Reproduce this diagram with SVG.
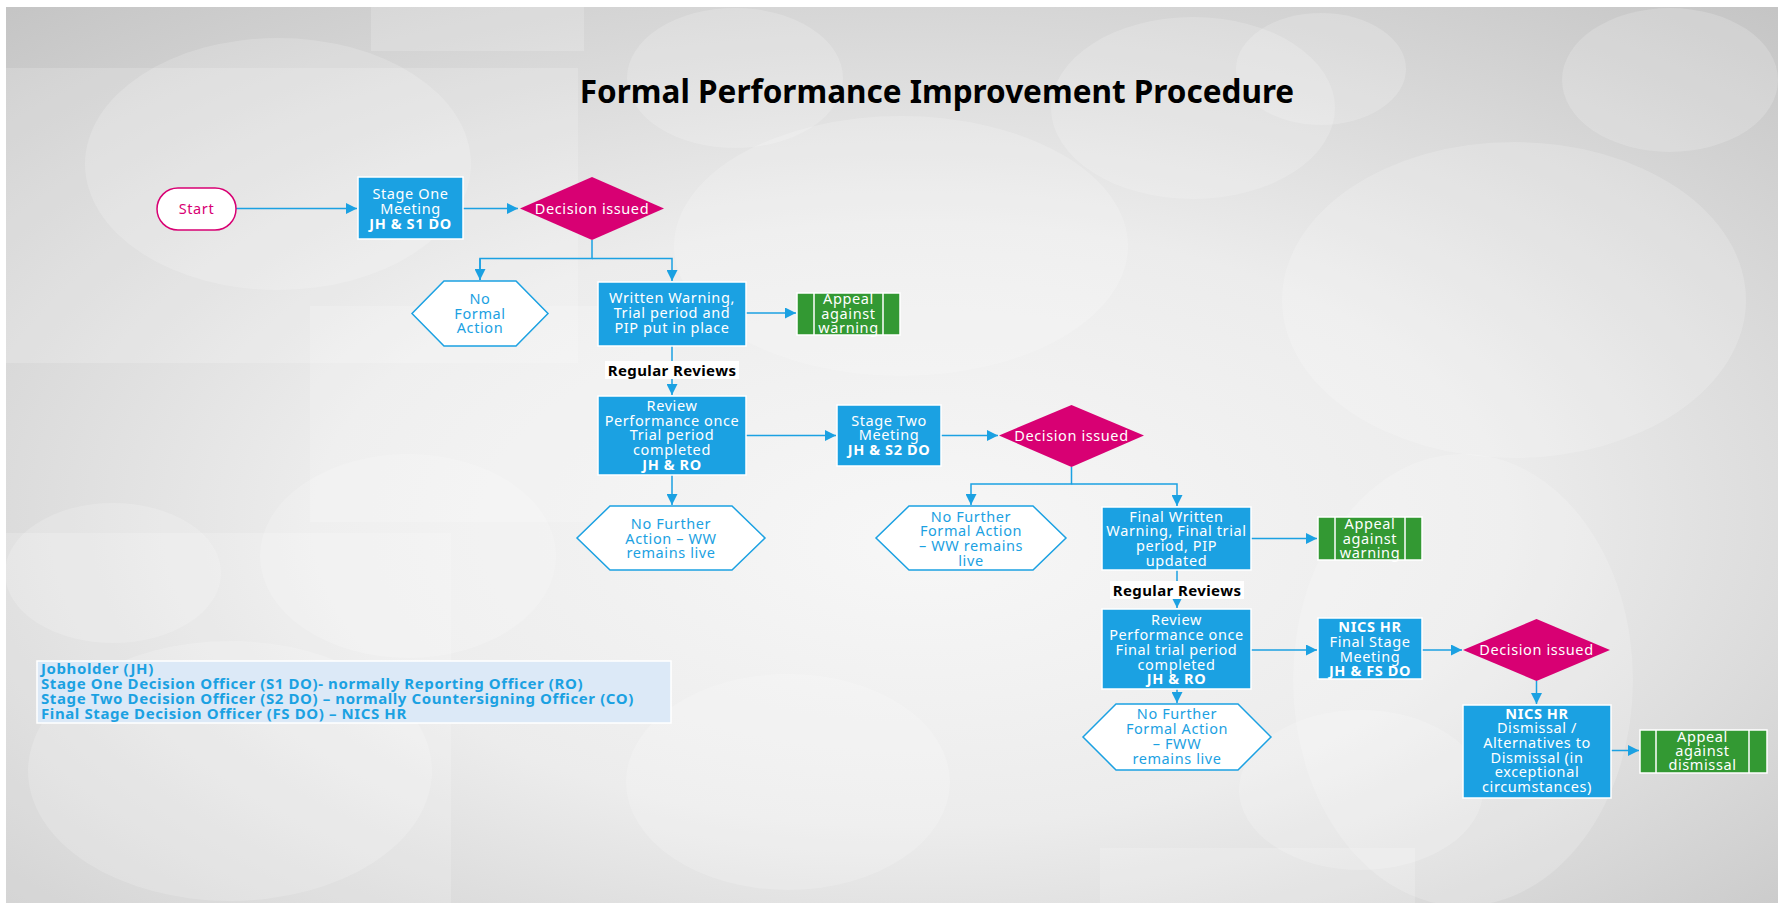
<svg xmlns="http://www.w3.org/2000/svg" width="1778" height="903" viewBox="0 0 1778 903">
  <defs>
    <radialGradient id="bg" cx="0.5" cy="0.55" r="0.75" fx="0.52" fy="0.6">
      <stop offset="0" stop-color="#f7f7f7"/>
      <stop offset="0.45" stop-color="#ececec"/>
      <stop offset="1" stop-color="#c4c4c4"/>
    </radialGradient>
    <marker id="arr" viewBox="0 0 10 10" refX="10" refY="5" markerWidth="11" markerHeight="11" markerUnits="userSpaceOnUse" orient="auto">
      <path d="M0,0 L10,5 L0,10 z" fill="#1ba1e2"/>
    </marker>
    <style>
      .box { fill: #1ba1e2; stroke: #ffffff; stroke-width: 1.5; }
      .dia { fill: #d80073; stroke: none; }
      .hex { fill: #ffffff; stroke: #1ba1e2; stroke-width: 1.5; }
      .grn { fill: #339933; stroke: #ffffff; stroke-width: 1.5; }
      .gl { stroke: #ffffff; stroke-width: 1.5; }
      .t { font-family: "Noto Sans", "Open Sans", sans-serif; font-size: 14.5px; letter-spacing: 0.6px; fill: #ffffff; text-anchor: middle; }
      .hx { fill: #1ba1e2; }
      .b { font-weight: bold; }
      .lbl { font-family: "Noto Sans", "Open Sans", sans-serif; font-size: 15px; letter-spacing: 0.4px; font-weight: bold; fill: #000000; text-anchor: middle; }
      .leg { font-family: "Noto Sans", "Open Sans", sans-serif; font-size: 15px; letter-spacing: 0.6px; font-weight: bold; fill: #1ba1e2; }
      .con { fill: none; stroke: #1ba1e2; stroke-width: 1.5; }
      .deco { fill: #ffffff; opacity: 0.18; }
    </style>
  </defs>

  <!-- backdrop -->
  <rect width="1778" height="903" fill="#ffffff"/>
  <rect x="6" y="7" width="1772" height="896" fill="url(#bg)"/>
  <g id="backdrop-shapes">
    <rect class="deco" x="6" y="68" width="572" height="295"/>
    <rect class="deco" x="371" y="7" width="213" height="44"/>
    <rect class="deco" x="310" y="306" width="365" height="216"/>
    <rect class="deco" x="6" y="533" width="445" height="370"/>
    <rect class="deco" x="1100" y="848" width="315" height="55"/>
    <ellipse class="deco" cx="278" cy="164" rx="193" ry="126"/>
    <ellipse class="deco" cx="735" cy="78" rx="108" ry="70"/>
    <ellipse class="deco" cx="1193" cy="108" rx="142" ry="91"/>
    <ellipse class="deco" cx="1321" cy="69" rx="85" ry="56"/>
    <ellipse class="deco" cx="1670" cy="80" rx="108" ry="72"/>
    <ellipse class="deco" cx="901" cy="246" rx="227" ry="130"/>
    <ellipse class="deco" cx="1514" cy="300" rx="232" ry="158"/>
    <ellipse class="deco" cx="113" cy="573" rx="108" ry="70"/>
    <ellipse class="deco" cx="408" cy="556" rx="148" ry="102"/>
    <ellipse class="deco" cx="230" cy="771" rx="202" ry="130"/>
    <ellipse class="deco" cx="788" cy="782" rx="162" ry="108"/>
    <ellipse class="deco" cx="1361" cy="790" rx="122" ry="80"/>
    <ellipse class="deco" cx="1463" cy="680" rx="170" ry="226"/>
  </g>

  <text id="title" x="937" y="103" font-family="'Noto Sans', 'Open Sans', sans-serif" font-size="31.5" font-weight="bold" fill="#000000" text-anchor="middle">Formal Performance Improvement Procedure</text>

  <!-- connectors -->
  <g id="connectors">
    <path class="con" d="M236,208.5 H357" marker-end="url(#arr)"/>
    <path class="con" d="M463,208.5 H518" marker-end="url(#arr)"/>
    <path class="con" d="M592,240 V258.5 H480 V280"/>
    <path class="con" d="M480,258.5 V280" marker-end="url(#arr)"/>
    <path class="con" d="M592,258.5 H672 V281" marker-end="url(#arr)"/>
    <path class="con" d="M746,313 H796" marker-end="url(#arr)"/>
    <path class="con" d="M672,346 V395" marker-end="url(#arr)"/>
    <path class="con" d="M746,435.5 H836" marker-end="url(#arr)"/>
    <path class="con" d="M941,435.5 H998" marker-end="url(#arr)"/>
    <path class="con" d="M672,475 V505" marker-end="url(#arr)"/>
    <path class="con" d="M1071.5,467 V484 H971 V505" marker-end="url(#arr)"/>
    <path class="con" d="M1071.5,484 H1177 V506" marker-end="url(#arr)"/>
    <path class="con" d="M1251,538.5 H1317" marker-end="url(#arr)"/>
    <path class="con" d="M1177,570 V608" marker-end="url(#arr)"/>
    <path class="con" d="M1251,650 H1317" marker-end="url(#arr)"/>
    <path class="con" d="M1422,650 H1462" marker-end="url(#arr)"/>
    <path class="con" d="M1536.5,681 V704" marker-end="url(#arr)"/>
    <path class="con" d="M1177,689 V703" marker-end="url(#arr)"/>
    <path class="con" d="M1611,750.5 H1639" marker-end="url(#arr)"/>
  </g>

  <!-- connector labels -->
  <g id="label-reviews-1">
    <rect x="605" y="361" width="134" height="18" fill="#ffffff"/>
    <text class="lbl" x="672" y="375.5">Regular Reviews</text>
  </g>
  <g id="label-reviews-2">
    <rect x="1110" y="581" width="134" height="18" fill="#ffffff"/>
    <text class="lbl" x="1177" y="595.5">Regular Reviews</text>
  </g>

  <!-- nodes -->
  <g id="start">
    <rect x="157" y="188" width="79" height="42" rx="21" fill="#ffffff" stroke="#d80073" stroke-width="1.5"/>
    <text class="t" x="196.5" y="214" style="fill:#d80073">Start</text>
  </g>

  <g id="stage-one-meeting">
    <rect class="box" x="358" y="177" width="105" height="62"/>
    <text class="t" x="410.5" y="199">Stage One</text>
    <text class="t" x="410.5" y="213.5">Meeting</text>
    <text class="t b" x="410.5" y="228.5">JH &amp; S1 DO</text>
  </g>

  <g id="decision-1">
    <polygon class="dia" points="592,177 664,208.5 592,240 520,208.5"/>
    <text class="t" x="592" y="213.5">Decision issued</text>
  </g>

  <g id="no-formal-action">
    <polygon class="hex" points="444,281 516,281 548,313.5 516,346 444,346 412,313.5"/>
    <text class="t hx" x="480" y="304">No</text>
    <text class="t hx" x="480" y="318.5">Formal</text>
    <text class="t hx" x="480" y="333">Action</text>
  </g>

  <g id="written-warning">
    <rect class="box" x="598" y="282" width="148" height="64"/>
    <text class="t" x="672" y="303">Written Warning,</text>
    <text class="t" x="672" y="318">Trial period and</text>
    <text class="t" x="672" y="333">PIP put in place</text>
  </g>

  <g id="appeal-warning-1">
    <rect class="grn" x="797" y="293" width="103" height="42"/>
    <line class="gl" x1="814" y1="293" x2="814" y2="335"/>
    <line class="gl" x1="883" y1="293" x2="883" y2="335"/>
    <text class="t" x="848.5" y="304">Appeal</text>
    <text class="t" x="848.5" y="318.5">against</text>
    <text class="t" x="848.5" y="333">warning</text>
  </g>

  <g id="review-performance-1">
    <rect class="box" x="598" y="396" width="148" height="79"/>
    <text class="t" x="672" y="411">Review</text>
    <text class="t" x="672" y="425.5">Performance once</text>
    <text class="t" x="672" y="440">Trial period</text>
    <text class="t" x="672" y="455">completed</text>
    <text class="t b" x="672" y="470">JH &amp; RO</text>
  </g>

  <g id="stage-two-meeting">
    <rect class="box" x="837" y="405" width="104" height="61"/>
    <text class="t" x="889" y="425.5">Stage Two</text>
    <text class="t" x="889" y="440">Meeting</text>
    <text class="t b" x="889" y="455">JH &amp; S2 DO</text>
  </g>

  <g id="decision-2">
    <polygon class="dia" points="1071.5,405 1144,435.5 1071.5,467 999,435.5"/>
    <text class="t" x="1071.5" y="440.5">Decision issued</text>
  </g>

  <g id="no-further-action-ww">
    <polygon class="hex" points="610,506 732,506 765,538 732,570 610,570 577,538"/>
    <text class="t hx" x="671" y="529">No Further</text>
    <text class="t hx" x="671" y="543.5">Action – WW</text>
    <text class="t hx" x="671" y="558">remains live</text>
  </g>

  <g id="no-further-formal-action-ww">
    <polygon class="hex" points="909,506 1033,506 1066,538 1033,570 909,570 876,538"/>
    <text class="t hx" x="971" y="521.5">No Further</text>
    <text class="t hx" x="971" y="536">Formal Action</text>
    <text class="t hx" x="971" y="551">– WW remains</text>
    <text class="t hx" x="971" y="566">live</text>
  </g>

  <g id="final-written-warning">
    <rect class="box" x="1102" y="507" width="149" height="63"/>
    <text class="t" x="1176.5" y="521.5">Final Written</text>
    <text class="t" x="1176.5" y="536">Warning, Final trial</text>
    <text class="t" x="1176.5" y="551">period, PIP</text>
    <text class="t" x="1176.5" y="566">updated</text>
  </g>

  <g id="appeal-warning-2">
    <rect class="grn" x="1318" y="517" width="104" height="43"/>
    <line class="gl" x1="1335" y1="517" x2="1335" y2="560"/>
    <line class="gl" x1="1405" y1="517" x2="1405" y2="560"/>
    <text class="t" x="1370" y="529">Appeal</text>
    <text class="t" x="1370" y="543.5">against</text>
    <text class="t" x="1370" y="558">warning</text>
  </g>

  <g id="review-performance-2">
    <rect class="box" x="1102" y="609" width="149" height="80"/>
    <text class="t" x="1176.5" y="625">Review</text>
    <text class="t" x="1176.5" y="640">Performance once</text>
    <text class="t" x="1176.5" y="655">Final trial period</text>
    <text class="t" x="1176.5" y="669.5">completed</text>
    <text class="t b" x="1176.5" y="684">JH &amp; RO</text>
  </g>

  <g id="final-stage-meeting">
    <rect class="box" x="1318" y="618" width="104" height="61"/>
    <text class="t b" x="1370" y="632">NICS HR</text>
    <text class="t" x="1370" y="647">Final Stage</text>
    <text class="t" x="1370" y="661.5">Meeting</text>
    <text class="t b" x="1370" y="676">JH &amp; FS DO</text>
  </g>

  <g id="decision-3">
    <polygon class="dia" points="1536.5,619 1610,650 1536.5,681 1463,650"/>
    <text class="t" x="1536.5" y="655">Decision issued</text>
  </g>

  <g id="no-further-formal-action-fww">
    <polygon class="hex" points="1116,704 1238,704 1271,737 1238,770 1116,770 1083,737"/>
    <text class="t hx" x="1177" y="719">No Further</text>
    <text class="t hx" x="1177" y="734">Formal Action</text>
    <text class="t hx" x="1177" y="749">– FWW</text>
    <text class="t hx" x="1177" y="763.5">remains live</text>
  </g>

  <g id="dismissal">
    <rect class="box" x="1463" y="705" width="148" height="93"/>
    <text class="t b" x="1537" y="719">NICS HR</text>
    <text class="t" x="1537" y="733">Dismissal /</text>
    <text class="t" x="1537" y="748">Alternatives to</text>
    <text class="t" x="1537" y="762.5">Dismissal (in</text>
    <text class="t" x="1537" y="777">exceptional</text>
    <text class="t" x="1537" y="792">circumstances)</text>
  </g>

  <g id="appeal-dismissal">
    <rect class="grn" x="1640" y="730" width="127" height="43"/>
    <line class="gl" x1="1656" y1="730" x2="1656" y2="773"/>
    <line class="gl" x1="1749" y1="730" x2="1749" y2="773"/>
    <text class="t" x="1702.5" y="742">Appeal</text>
    <text class="t" x="1702.5" y="756">against</text>
    <text class="t" x="1702.5" y="770">dismissal</text>
  </g>

  <g id="legend">
    <rect x="37" y="661" width="634" height="62" fill="#dce9f7" stroke="#ffffff" stroke-width="1.5"/>
    <text class="leg" x="41" y="674">Jobholder (JH)</text>
    <text class="leg" x="41" y="689">Stage One Decision Officer (S1 DO)- normally Reporting Officer (RO)</text>
    <text class="leg" x="41" y="703.5">Stage Two Decision Officer (S2 DO) – normally Countersigning Officer (CO)</text>
    <text class="leg" x="41" y="718.5">Final Stage Decision Officer (FS DO) – NICS HR</text>
  </g>
</svg>
